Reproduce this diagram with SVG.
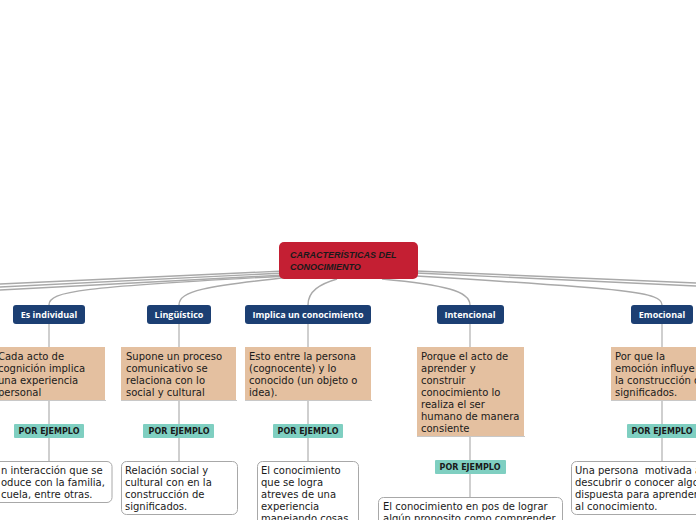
<svg xmlns="http://www.w3.org/2000/svg" width="696" height="520" viewBox="0 0 696 520">
<style>
.con{fill:none;stroke:#a9a9a9;stroke-width:1.4}
.vl{fill:none;stroke:#b0b0b0;stroke-width:1.2}
.blue{fill:#1c3f73}
.bt{font-family:"Open Sans",sans-serif;font-weight:bold;font-size:9px;fill:#fff;text-anchor:middle}
.ora{fill:#e4c0a0}
.osh{stroke:#c8c8c8;stroke-width:1.2}
.ot{font-family:"DejaVu Sans",Verdana,sans-serif;font-size:10px;fill:#1a1a1a}
.teal{fill:#7fcfc1}
.tt{font-family:"DejaVu Sans",Verdana,sans-serif;font-weight:bold;font-size:8px;fill:#1a1a1a;text-anchor:middle}
.wb{fill:#fff;stroke:#a8a8a8;stroke-width:1}
</style>
<rect width="696" height="520" fill="#fff"/>
<g id="connectors">
<path class="con" d="M284 271 L0 284"/>
<path class="con" d="M284 273 L0 287"/>
<path class="con" d="M284 275 L0 290"/>
<path class="con" d="M416 271 L696 283"/>
<path class="con" d="M416 273 L696 286"/>
<path class="con" d="M49 305 C49 291 80 287 286 276"/>
<path class="con" d="M179 305 C179 291 205 286 292 277"/>
<path class="con" d="M308 305 C308 291 320 284 337 279"/>
<path class="con" d="M470 305 C470 291 445 285 382 279"/>
<path class="con" d="M662 305 C662 292 630 289 416 276"/>
<path class="vl" d="M49 324 V347 M49 400 V424 M49 438 V461"/>
<path class="vl" d="M179 324 V347 M179 400 V424 M179 438 V461"/>
<path class="vl" d="M308 324 V347 M308 400 V424 M308 438 V461"/>
<path class="vl" d="M470 324 V347 M470 436 V460 M470 474 V497"/>
<path class="vl" d="M662 324 V347 M662 400 V424 M662 438 V461"/>
</g>
<g id="central">
<rect x="279" y="242" width="139" height="37" rx="5" fill="#c41f33"/>
<text x="290" y="258" font-family="Liberation Sans,Arial,sans-serif" font-weight="bold" font-style="italic" font-size="9" fill="#1a1a1a">CARACTERÍSTICAS DEL</text>
<text x="290" y="270" font-family="Liberation Sans,Arial,sans-serif" font-weight="bold" font-style="italic" font-size="9" fill="#1a1a1a">CONOCIMIENTO</text>
</g>
<g id="n-individual"><rect class="blue" x="13" y="305" width="72" height="19" rx="3"/><text class="bt" x="49" y="318">Es individual</text></g>
<g id="n-linguistico"><rect class="blue" x="147" y="305" width="64" height="19" rx="3"/><text class="bt" x="179" y="318">Lingüístico</text></g>
<g id="n-implica"><rect class="blue" x="245" y="305" width="126" height="19" rx="3"/><text class="bt" x="308" y="318">Implica un conocimiento</text></g>
<g id="n-intencional"><rect class="blue" x="437" y="305" width="67" height="19" rx="3"/><text class="bt" x="470" y="318">Intencional</text></g>
<g id="n-emocional"><rect class="blue" x="631" y="305" width="62" height="19" rx="3"/><text class="bt" x="662" y="318">Emocional</text></g>

<g id="o-individual"><rect class="ora" x="-5" y="347" width="110" height="53"/><line class="osh" x1="-5" y1="400.5" x2="106" y2="400.5"/>
<text class="ot"><tspan x="-2" y="360">Cada acto de</tspan><tspan x="-2" y="372">cognición implica</tspan><tspan x="-2" y="384">una experiencia</tspan><tspan x="-2" y="396">personal</tspan></text></g>
<g id="o-linguistico"><rect class="ora" x="121" y="347" width="115" height="53"/><line class="osh" x1="121" y1="400.5" x2="237" y2="400.5"/>
<text class="ot"><tspan x="126" y="360">Supone un proceso</tspan><tspan x="126" y="372">comunicativo se</tspan><tspan x="126" y="384">relaciona con lo</tspan><tspan x="126" y="396">social y cultural</tspan></text></g>
<g id="o-implica"><rect class="ora" x="245" y="347" width="126" height="53"/><line class="osh" x1="245" y1="400.5" x2="372" y2="400.5"/>
<text class="ot"><tspan x="249" y="360">Esto entre la persona</tspan><tspan x="249" y="372">(cognocente) y lo</tspan><tspan x="249" y="384">conocido (un objeto o</tspan><tspan x="249" y="396">idea).</tspan></text></g>
<g id="o-intencional"><rect class="ora" x="417" y="347" width="107" height="89"/><line class="osh" x1="417" y1="436.5" x2="525" y2="436.5"/>
<text class="ot"><tspan x="421" y="360">Porque el acto de</tspan><tspan x="421" y="372">aprender y</tspan><tspan x="421" y="384">construir</tspan><tspan x="421" y="396">conocimiento lo</tspan><tspan x="421" y="408">realiza el ser</tspan><tspan x="421" y="420">humano de manera</tspan><tspan x="421" y="432">consiente</tspan></text></g>
<g id="o-emocional"><rect class="ora" x="611" y="347" width="90" height="53"/><line class="osh" x1="611" y1="400.5" x2="700" y2="400.5"/>
<text class="ot"><tspan x="615" y="360">Por que la</tspan><tspan x="615" y="372">emoción influye en</tspan><tspan x="615" y="384">la construcción de</tspan><tspan x="615" y="396">significados.</tspan></text></g>

<g id="t-individual"><rect class="teal" x="14" y="424" width="70" height="14" rx="1"/><text class="tt" x="49" y="434">POR EJEMPLO</text></g>
<g id="t-linguistico"><rect class="teal" x="143" y="424" width="71" height="14" rx="1"/><text class="tt" x="179" y="434">POR EJEMPLO</text></g>
<g id="t-implica"><rect class="teal" x="273" y="424" width="70" height="14" rx="1"/><text class="tt" x="308" y="434">POR EJEMPLO</text></g>
<g id="t-intencional"><rect class="teal" x="435" y="460" width="71" height="14" rx="1"/><text class="tt" x="470" y="470">POR EJEMPLO</text></g>
<g id="t-emocional"><rect class="teal" x="627" y="424" width="71" height="14" rx="1"/><text class="tt" x="662" y="434">POR EJEMPLO</text></g>

<g id="w-individual"><rect class="wb" x="-10" y="461.5" width="122" height="41" rx="5"/>
<text class="ot"><tspan x="1" y="474">n interacción que se</tspan><tspan x="1" y="486">oduce con la familia,</tspan><tspan x="1" y="498">cuela, entre otras.</tspan></text></g>
<g id="w-linguistico"><rect class="wb" x="121.5" y="461.5" width="116" height="53" rx="5"/>
<text class="ot"><tspan x="125" y="474">Relación social y</tspan><tspan x="125" y="486">cultural con en la</tspan><tspan x="125" y="498">construcción de</tspan><tspan x="125" y="510">significados.</tspan></text></g>
<g id="w-implica"><rect class="wb" x="257.5" y="461.5" width="101" height="70" rx="5"/>
<text class="ot"><tspan x="261" y="474">El conocimiento</tspan><tspan x="261" y="486">que se logra</tspan><tspan x="261" y="498">atreves de una</tspan><tspan x="261" y="510">experiencia</tspan><tspan x="261" y="522">manejando cosas</tspan></text></g>
<g id="w-intencional"><rect class="wb" x="378.5" y="497.5" width="184" height="40" rx="5"/>
<text class="ot"><tspan x="383" y="510">El conocimiento en pos de lograr</tspan><tspan x="383" y="522">algún proposito como comprender</tspan></text></g>
<g id="w-emocional"><rect class="wb" x="571.5" y="461.5" width="135" height="53" rx="5"/>
<text class="ot" xml:space="preserve"><tspan x="575" y="474">Una persona  motivada a</tspan><tspan x="575" y="486">descubrir o conocer algo</tspan><tspan x="575" y="498">dispuesta para aprender</tspan><tspan x="575" y="510">al conocimiento.</tspan></text></g>
</svg>
